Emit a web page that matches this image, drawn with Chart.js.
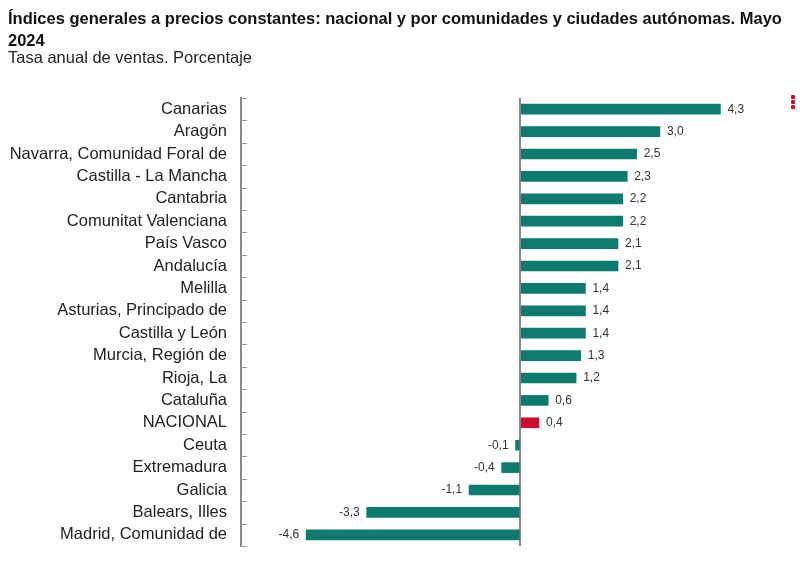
<!DOCTYPE html>
<html>
<head>
<meta charset="utf-8">
<script src="https://cdn.jsdelivr.net/npm/chart.js@4.4.1/dist/chart.umd.min.js"></script>
<style>
  body { margin: 0; background: #fff; font-family: "Liberation Sans", Arial, sans-serif; }
  #wrap { position: relative; width: 810px; height: 565px; overflow: hidden; }
  #titulo { position: absolute; left: 8px; top: 7px; width: 790px; font-size: 16.5px; font-weight: bold; line-height: 22px; color: #111; }
  #subtitulo { position: absolute; left: 8px; top: 48px; font-size: 16.5px; color: #222; }
  #menu { position: absolute; left: 791px; top: 95px; width: 4px; }
  #menu span { display: block; width: 4px; height: 4px; margin-bottom: 1px; background: #c8102e; border-radius: 1px; }
  canvas { position: absolute; left: 0; top: 0; }
</style>
</head>
<body>
<div id="wrap">
  <canvas id="grafico" width="810" height="565"></canvas>
  <div id="titulo">Índices generales a precios constantes: nacional y por comunidades y ciudades autónomas. Mayo 2024</div>
  <div id="subtitulo">Tasa anual de ventas. Porcentaje</div>
  <div id="menu"><span></span><span></span><span></span></div>
</div>
<script>
// Datos
const categorias = [
  'Canarias', 'Aragón', 'Navarra, Comunidad Foral de', 'Castilla - La Mancha', 'Cantabria',
  'Comunitat Valenciana', 'País Vasco', 'Andalucía', 'Melilla', 'Asturias, Principado de',
  'Castilla y León', 'Murcia, Región de', 'Rioja, La', 'Cataluña', 'NACIONAL',
  'Ceuta', 'Extremadura', 'Galicia', 'Balears, Illes', 'Madrid, Comunidad de'
];
const tasaAnual = [4.3, 3.0, 2.5, 2.3, 2.2, 2.2, 2.1, 2.1, 1.4, 1.4, 1.4, 1.3, 1.2, 0.6, 0.4, -0.1, -0.4, -1.1, -3.3, -4.6];

const VERDE = '#117a6f';
const ROJO = '#c8102e';

// Etiquetas de valor al final de cada barra
const etiquetasValor = {
  id: 'etiquetasValor',
  afterDatasetsDraw(chart) {
    const ctx = chart.ctx;
    const meta = chart.getDatasetMeta(0);
    ctx.save();
    ctx.font = '12px "Liberation Sans", Arial, sans-serif';
    ctx.fillStyle = '#333';
    ctx.textBaseline = 'middle';
    meta.data.forEach((bar, i) => {
      const v = tasaAnual[i];
      const txt = v.toFixed(1).replace('.', ',');
      if (v >= 0) {
        ctx.textAlign = 'left';
        ctx.fillText(txt, bar.x + 7, bar.y);
      } else {
        ctx.textAlign = 'right';
        ctx.fillText(txt, bar.x - 7, bar.y);
      }
    });
    ctx.restore();
  }
};

// Marcas del eje de categorías, hacia dentro
const marcasEje = {
  id: 'marcasEje',
  afterDraw(chart) {
    const ctx = chart.ctx;
    const y = chart.scales.y;
    const x0 = y.right;
    ctx.save();
    ctx.strokeStyle = '#999';
    ctx.lineWidth = 1;
    for (let i = 0; i <= categorias.length; i++) {
      const py = Math.round(y.getPixelForValue(i - 0.5)) + 0.5;
      ctx.beginPath();
      ctx.moveTo(x0, py);
      ctx.lineTo(x0 + 6, py);
      ctx.stroke();
    }
    ctx.restore();
  }
};

new Chart(document.getElementById('grafico'), {
  type: 'bar',
  data: {
    labels: categorias,
    datasets: [{
      data: tasaAnual,
      backgroundColor: categorias.map(c => c === 'NACIONAL' ? ROJO : VERDE),
      barThickness: 10
    }]
  },
  options: {
    indexAxis: 'y',
    responsive: false,
    animation: false,
    layout: { padding: { left: 0, right: 57, top: 98, bottom: 19 } },
    plugins: {
      legend: { display: false },
      tooltip: { enabled: false }
    },
    scales: {
      x: {
        min: -6,
        max: 5,
        ticks: { display: false },
        border: { display: false },
        grid: {
          drawTicks: false,
          lineWidth: 2,
          color: c => c.tick && c.tick.value === 0 ? '#888' : 'rgba(0,0,0,0)'
        }
      },
      y: {
        afterFit(scale) { scale.width = 241; },
        ticks: {
          autoSkip: false,
          color: '#222',
          padding: 6,
          font: { size: 16.5, family: '"Liberation Sans", Arial, sans-serif' }
        },
        grid: { display: false },
        border: { display: true, color: '#888', width: 2 }
      }
    }
  },
  plugins: [etiquetasValor, marcasEje]
});
</script>
</body>
</html>
